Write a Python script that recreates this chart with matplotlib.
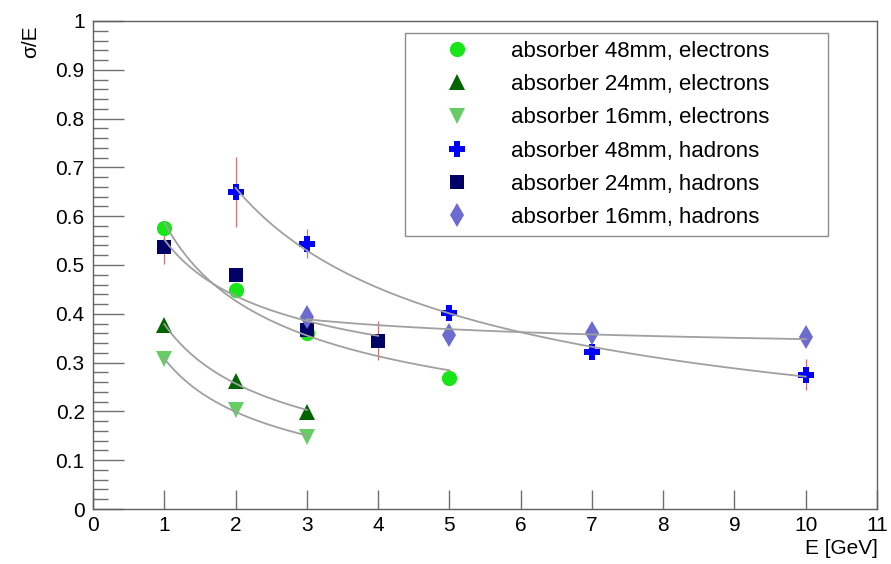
import numpy as np
import matplotlib
matplotlib.use("Agg")
import matplotlib.pyplot as plt
from matplotlib.ticker import MultipleLocator, FuncFormatter

plt.rcParams['font.family'] = ['Liberation Sans', 'DejaVu Sans']

# measured points: energy [GeV], sigma/E, error
e48_x = [1, 2, 3, 5]
e48_y = [0.576, 0.449, 0.36, 0.269]
e48_err = [0.01, 0.006, 0.006, 0.005]

e24_x = [1, 2, 3]
e24_y = [0.377, 0.263, 0.199]
e24_err = [0.005, 0.005, 0.005]

e16_x = [1, 2, 3]
e16_y = [0.307, 0.203, 0.148]
e16_err = [0.005, 0.005, 0.005]

h48_x = [2, 3, 5, 7, 10]
h48_y = [0.65, 0.544, 0.401, 0.322, 0.275]
h48_err = [0.072, 0.03, 0.012, 0.01, 0.032]

h24_x = [1, 2, 3, 4]
h24_y = [0.537, 0.48, 0.367, 0.345]
h24_err = [0.035, 0.012, 0.01, 0.04]

h16_x = [3, 5, 7, 10]
h16_y = [0.394, 0.357, 0.36, 0.352]
h16_err = [0.005, 0.005, 0.005, 0.005]

series = [
    (e48_x, e48_y, e48_err, 'o', '#19e619', 11, 'absorber 48mm, electrons'),
    (e24_x, e24_y, e24_err, '^', '#006400', 11, 'absorber 24mm, electrons'),
    (e16_x, e16_y, e16_err, 'v', '#66cc66', 11, 'absorber 16mm, electrons'),
    (h48_x, h48_y, h48_err, 'P', '#0000ff', 12, 'absorber 48mm, hadrons'),
    (h24_x, h24_y, h24_err, 's', '#000066', 10.5, 'absorber 24mm, hadrons'),
    (h16_x, h16_y, h16_err, 'd', '#6b6bd0', 12, 'absorber 16mm, hadrons'),
]

fig = plt.figure(figsize=(8.91, 5.64), dpi=100)
ax = fig.add_axes([0.1044, 0.0975, 0.8799, 0.8653])

for x, y, err, m, c, ms, lab in series:
    x = np.array(x, dtype=float)
    y = np.array(y)
    ax.errorbar(x, y, yerr=err, fmt='none', ecolor='#d07070', elinewidth=0.9,
                capsize=0, zorder=2)
    ax.plot(x, y, linestyle='none', marker=m, color=c, markersize=ms,
            markeredgewidth=0, label=lab, zorder=3)
    # fit a/sqrt(E) + b, like the grey curves in the original
    a, b = np.polyfit(1 / np.sqrt(x), y, 1)
    xx = np.linspace(x.min(), x.max(), 200)
    ax.plot(xx, a / np.sqrt(xx) + b, color='#a0a0a0', lw=1.3, zorder=4)

ax.set_xlim(0, 11)
ax.set_ylim(0, 1)
ax.xaxis.set_major_locator(MultipleLocator(1))
ax.yaxis.set_major_locator(MultipleLocator(0.1))
ax.yaxis.set_minor_locator(MultipleLocator(0.02))
ax.yaxis.set_major_formatter(FuncFormatter(
    lambda v, p: '0' if abs(v) < 1e-9 else '1' if abs(v - 1) < 1e-9 else f'{v:.1f}'))
ax.tick_params(axis='y', which='major', direction='in', length=22, width=1,
               color='#707070', labelsize=15, pad=6)
ax.tick_params(axis='y', which='minor', direction='in', length=11, width=1,
               color='#707070')
ax.tick_params(axis='x', which='major', direction='in', length=14, width=1,
               color='#707070', labelsize=15, pad=5)
for s in ax.spines.values():
    s.set_color('#606060')
    s.set_linewidth(1.0)

leg = ax.legend(loc='upper left', bbox_to_anchor=(0.398, 0.559, 0.5395, 0.416),
                mode='expand', borderaxespad=0, fontsize=16, frameon=True,
                fancybox=False, edgecolor='#707070', handlelength=4.0,
                handletextpad=0.4, labelspacing=0.55, borderpad=0.35)
leg.get_frame().set_linewidth(1.0)

fig.text(0.034, 1 - 42 / 564, 'σ/E', rotation=90, ha='center', va='center',
         fontsize=15)
fig.text(878 / 891, 1 - 548 / 564, 'E [GeV]', ha='right', va='center',
         fontsize=15)

fig.savefig('out.png', dpi=100)
